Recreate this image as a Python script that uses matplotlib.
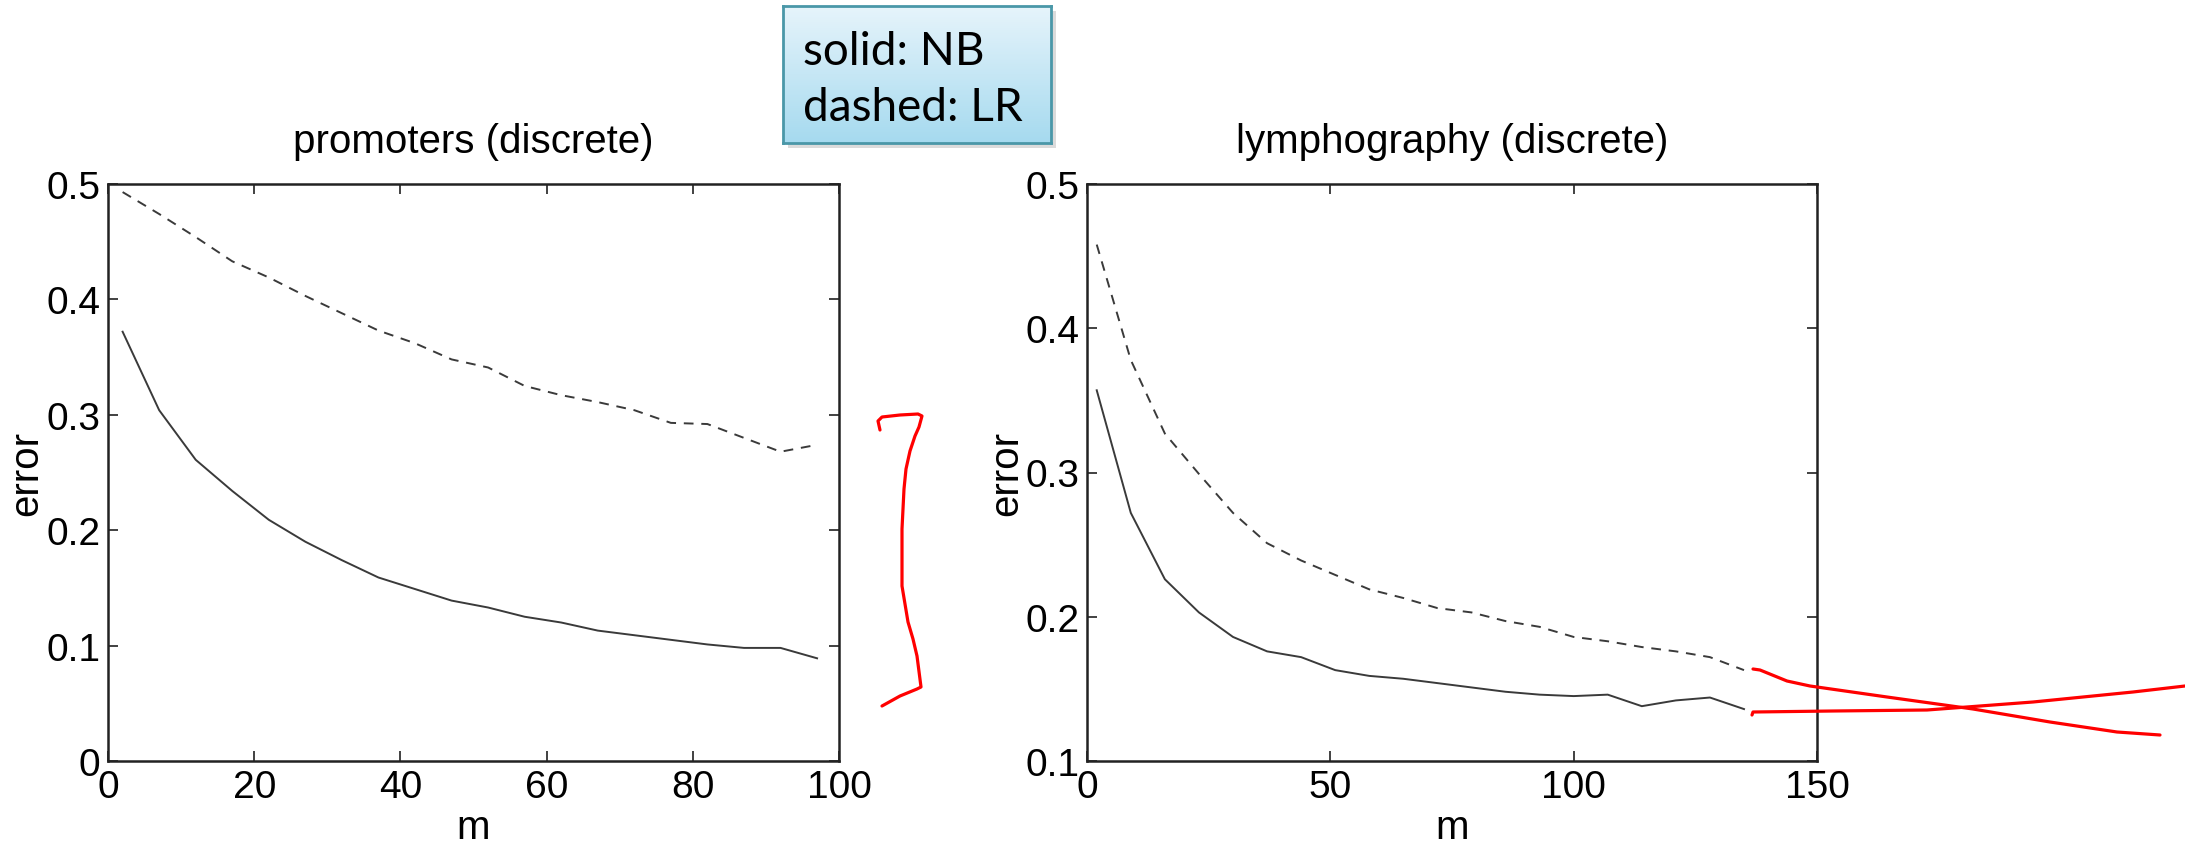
import numpy as np
import matplotlib.pyplot as plt
from matplotlib.ticker import FormatStrFormatter
from matplotlib.lines import Line2D
from matplotlib.patches import Rectangle
from matplotlib.colors import LinearSegmentedColormap

plt.rcParams['font.family'] = ['Liberation Sans', 'DejaVu Sans']

# promoters (discrete)
m_prom = [2, 7, 12, 17, 22, 27, 32, 37, 42, 47, 52, 57, 62, 67, 72, 77, 82, 87, 92, 97]
nb_prom = [0.372, 0.304, 0.261, 0.234, 0.209, 0.190, 0.174, 0.159, 0.149, 0.139,
           0.133, 0.125, 0.120, 0.113, 0.109, 0.105, 0.101, 0.098, 0.098, 0.089]
lr_prom = [0.493, 0.474, 0.454, 0.433, 0.419, 0.403, 0.388, 0.373, 0.362, 0.348,
           0.341, 0.325, 0.317, 0.311, 0.304, 0.293, 0.292, 0.280, 0.268, 0.274]

# lymphography (discrete)
m_lymph = [2, 9, 16, 23, 30, 37, 44, 51, 58, 65, 72, 79, 86, 93, 100, 107, 114, 121, 128, 135]
nb_lymph = [0.357, 0.272, 0.226, 0.203, 0.186, 0.176, 0.172, 0.163, 0.159, 0.157,
            0.154, 0.151, 0.148, 0.146, 0.145, 0.146, 0.138, 0.142, 0.144, 0.136]
lr_lymph = [0.458, 0.378, 0.327, 0.299, 0.272, 0.251, 0.239, 0.229, 0.219, 0.213,
            0.206, 0.203, 0.197, 0.193, 0.186, 0.183, 0.179, 0.176, 0.172, 0.163]

W, H = 2185, 845
fig = plt.figure(figsize=(W / 100, H / 100), dpi=100)

TICK_FS = 28
TITLE_FS = 29
LABEL_FS = 29
line_col = '#3a3a3a'


def make_panel(rect, m, nb, lr, title, xlim, ylim, xticks, yticks, ylab_x):
    ax = fig.add_axes(rect)
    ax.plot(m, nb, color=line_col, lw=1.4)
    ax.plot(m, lr, color=line_col, lw=1.4, linestyle=(0, (5, 4)))
    ax.set_xlim(xlim)
    ax.set_ylim(ylim)
    ax.set_xticks(xticks)
    ax.set_yticks(yticks)
    ax.yaxis.set_major_formatter(FormatStrFormatter('%g'))
    ax.tick_params(direction='in', length=7, width=1.3, top=True, right=True,
                   labelsize=TICK_FS, color='#333333')
    ax.tick_params(axis='x', pad=6)
    ax.tick_params(axis='y', pad=5.5)
    for s in ax.spines.values():
        s.set_linewidth(1.8)
        s.set_color('#222222')
    ax.set_title(title, fontsize=TITLE_FS, pad=23)
    ax.set_xlabel('m', fontsize=LABEL_FS, va='baseline')
    ax.set_ylabel('error', fontsize=LABEL_FS)
    ax.xaxis.set_label_coords(0.5, -0.133)
    ax.yaxis.set_label_coords(ylab_x, 0.5)
    return ax


make_panel([108 / W, 83 / H, 731 / W, 577 / H], m_prom, nb_prom, lr_prom,
           'promoters (discrete)', (0, 100), (0, 0.5),
           [0, 20, 40, 60, 80, 100], [0, 0.1, 0.2, 0.3, 0.4, 0.5], -0.086)
make_panel([1087 / W, 83 / H, 730 / W, 577 / H], m_lymph, nb_lymph, lr_lymph,
           'lymphography (discrete)', (0, 150), (0.1, 0.5),
           [0, 50, 100, 150], [0.1, 0.2, 0.3, 0.4, 0.5], -0.085)

# legend box: "solid: NB / dashed: LR"
bx, by, bw, bh = 783, 7, 268, 137
fig.patches.append(Rectangle(((bx + 5) / W, 1 - (by + bh + 5) / H), bw / W, bh / H,
                             transform=fig.transFigure, facecolor='#999999',
                             alpha=0.35, edgecolor='none', zorder=-1))
bax = fig.add_axes([bx / W, 1 - (by + bh) / H, bw / W, bh / H], zorder=5)
grad = np.linspace(0, 1, 100).reshape(-1, 1)
cmap = LinearSegmentedColormap.from_list('box', ['#e6f4fb', '#a6daef'])
bax.imshow(grad, aspect='auto', cmap=cmap, extent=(0, 1, 0, 1), origin='upper')
bax.set_xticks([])
bax.set_yticks([])
for s in bax.spines.values():
    s.set_color('#4a97a8')
    s.set_linewidth(2)
bax.text(0.075, 0.58, 'solid: NB', fontsize=33, family='Lato', va='baseline',
         color='black', transform=bax.transAxes)
bax.text(0.075, 0.17, 'dashed: LR', fontsize=33, family='Lato', va='baseline',
         color='black', transform=bax.transAxes)

# red hand-drawn annotation strokes (figure pixels)
strokes = [
    [(880, 431), (878, 422), (882, 418), (900, 416), (918, 415), (922, 417), (919, 428),
     (915, 437), (910, 452), (906, 470), (904, 490), (902, 530), (902, 587), (905, 605),
     (908, 623), (913, 640), (917, 657), (921, 688), (917, 690), (900, 697), (882, 707)],
    [(1753, 670), (1760, 671), (1787, 682), (1810, 687), (1887, 698), (1973, 710),
     (2050, 723), (2117, 733), (2160, 736)],
    [(1752, 716), (1753, 713), (1833, 712), (1927, 711), (2033, 703), (2133, 693),
     (2185, 687)],
]
for st in strokes:
    xs = [p[0] / W for p in st]
    ys = [1 - p[1] / H for p in st]
    fig.add_artist(Line2D(xs, ys, transform=fig.transFigure, color='red', lw=2.3,
                          solid_capstyle='round', solid_joinstyle='round'))

fig.savefig('out.png', dpi=100)
